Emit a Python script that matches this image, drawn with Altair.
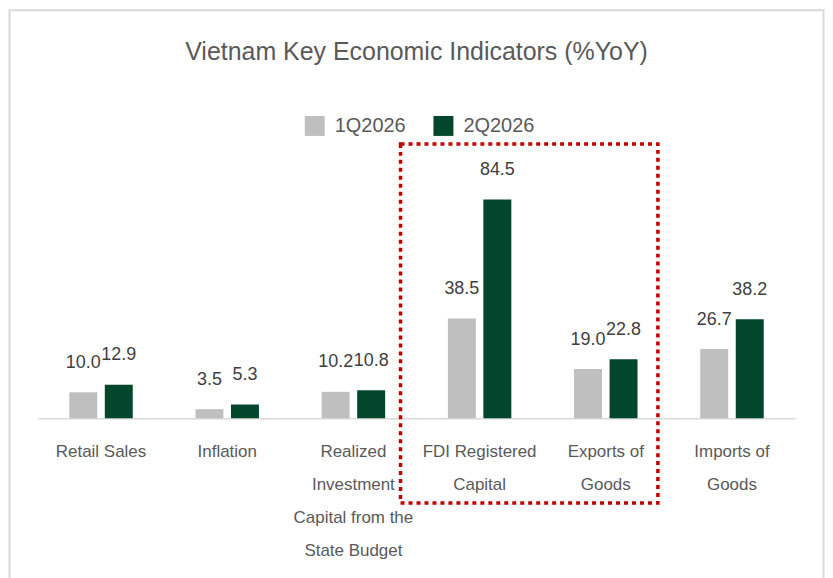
import altair as alt
import pandas as pd

# ---- data ----
categories = [
    "Retail Sales",
    "Inflation",
    "Realized|Investment|Capital from the|State Budget",
    "FDI Registered|Capital",
    "Exports of|Goods",
    "Imports of|Goods",
]
series = ["1Q2026", "2Q2026"]
q1_values = [10.0, 3.5, 10.2, 38.5, 19.0, 26.7]
q2_values = [12.9, 5.3, 10.8, 84.5, 22.8, 38.2]
colors = ["#bfbfbf", "#02462b"]
title_text = "Vietnam Key Economic Indicators (%YoY)"

rows = []
for c, a, b in zip(categories, q1_values, q2_values):
    rows.append({"category": c, "period": series[0], "value": a})
    rows.append({"category": c, "period": series[1], "value": b})
df = pd.DataFrame(rows)

FONT = "Liberation Sans, Arial, sans-serif"
W, H = 759, 259.5

xenc = alt.X(
    "category:N",
    sort=categories,
    scale=alt.Scale(paddingInner=0, paddingOuter=0),
    axis=alt.Axis(
        title=None,
        labelAngle=0,
        labelExpr="split(datum.label, '|')",
        labelFontSize=17,
        labelColor="#595959",
        labelFont=FONT,
        labelLineHeight=33.3,
        labelPadding=25,
        labelLimit=300,
        ticks=False,
        tickSize=0,
        domainColor="#d9d9d9",
        domainWidth=1.5,
    ),
)
xoff = alt.XOffset(
    "period:N",
    sort=series,
    scale=alt.Scale(paddingInner=0.213, paddingOuter=0.883),
)
yenc = alt.Y("value:Q", scale=alt.Scale(domain=[0, 100], nice=False), axis=None)

bars = alt.Chart(df).mark_bar().encode(
    x=xenc,
    xOffset=xoff,
    y=yenc,
    color=alt.Color(
        "period:N",
        sort=series,
        scale=alt.Scale(domain=series, range=colors),
        legend=alt.Legend(
            title=None,
            orient="none",
            legendX=267.5,
            legendY=-43.5,
            direction="horizontal",
            symbolType="square",
            symbolSize=400,
            symbolStrokeWidth=0,
            labelFontSize=20,
            labelColor="#595959",
            labelFont=FONT,
            labelOffset=10,
            columnPadding=27,
        ),
    ),
)

labels = alt.Chart(df).mark_text(
    fontSize=18, color="#404040", font=FONT, baseline="alphabetic", dy=-24.5
).encode(
    x=alt.X("category:N", sort=categories),
    xOffset=alt.XOffset("period:N", sort=series),
    y="value:Q",
    text=alt.Text("value:Q", format=".1f"),
)

one = alt.Data(values=[{"k": 1}])

border = alt.Chart(one).mark_rect(
    fillOpacity=0, stroke="#d9d9d9", strokeWidth=2
).encode(
    x=alt.value(-28.5), x2=alt.value(787.5), y=alt.value(-149.5), y2=alt.value(445)
)

highlight = alt.Chart(one).mark_rect(
    fillOpacity=0, stroke="#c00000", strokeWidth=3.5, strokeDash=[4, 4]
).encode(
    x=alt.value(363.5), x2=alt.value(621.5), y=alt.value(-15.5), y2=alt.value(344.5)
)

title = alt.Chart(one).mark_text(
    text=title_text, fontSize=25, color="#595959", font=FONT,
    align="center", baseline="alphabetic"
).encode(x=alt.value(379.5), y=alt.value(-99.5))

chart = (
    alt.layer(border, bars, labels, highlight, title)
    .properties(width=W, height=H, padding=0)
    .configure(font=FONT)
    .configure_view(strokeWidth=0, stroke="transparent")
)

chart.save("out.html", embed_options={"renderer": "svg", "actions": False})
